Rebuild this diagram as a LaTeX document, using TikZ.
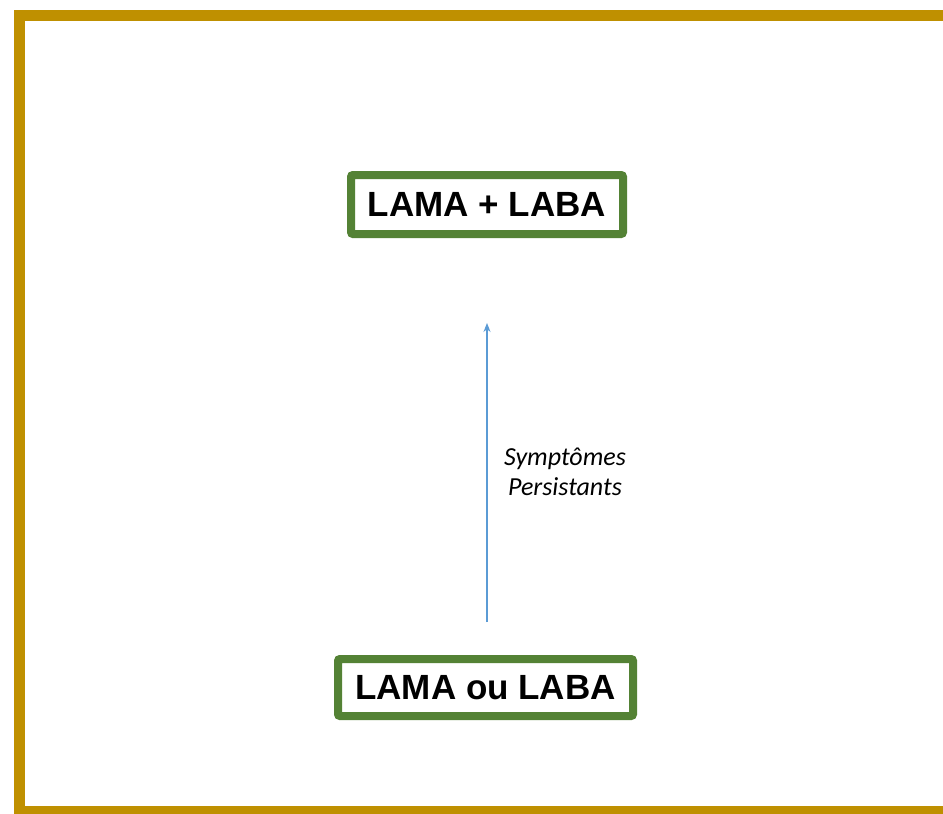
\documentclass[tikz,border=0pt]{standalone}
\usepackage{fontspec}
\setmainfont{Liberation Sans}
\newfontfamily\notefont{Carlito}
\usepackage{xcolor}
\usetikzlibrary{arrows.meta}
\definecolor{framegold}{HTML}{BF9000}
\definecolor{boxgreen}{HTML}{548235}
\definecolor{flowblue}{HTML}{5B9BD5}

\begin{document}
\begin{tikzpicture}[x=1pt, y=-1pt,
    therapy/.style={draw=boxgreen, line width=8pt, rounded corners=2pt, fill=white, inner sep=0pt,
        font=\fontsize{35}{40}\selectfont\bfseries},
    flow/.style={flowblue, line width=1.2pt, -{Stealth[length=9pt,width=7pt]}},
    note/.style={align=center, font=\notefont\itshape\fontsize{26}{30}\selectfont}]
    \clip (0,0) rectangle (943,814);
    \useasboundingbox (0,0) rectangle (943,814);
    \fill[white] (0,0) rectangle (943,814);
    \draw[framegold, line width=11pt] (19,15) rectangle (960,811);
    % the two steps
    \node[therapy, minimum width=272pt, minimum height=59pt] (dual) at (487,204.5) {LAMA + LABA};
    \node[therapy, minimum width=295pt, minimum height=57pt] (mono) at (485.5,687.5) {LAMA ou LABA};
    % escalation
    \draw[flow, shorten <=33pt, shorten >=85pt] (mono.north -| dual.south) -- (dual.south);
    \node[note] (why) at (565,472) {Symptômes\\Persistants};
\end{tikzpicture}
\end{document}
